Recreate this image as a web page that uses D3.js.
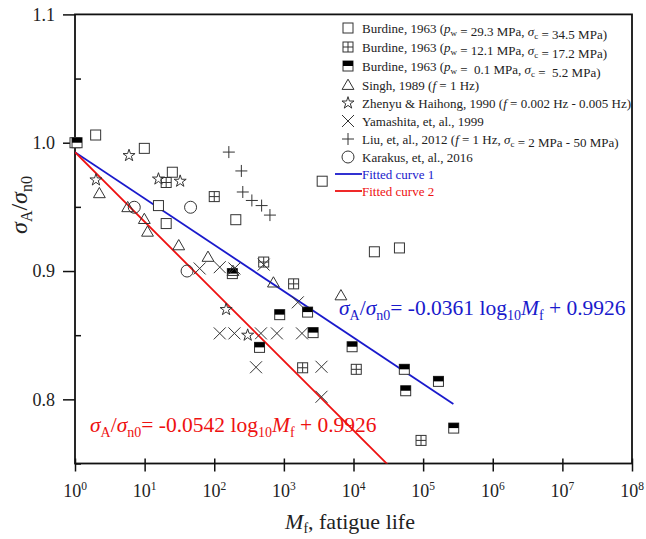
<!DOCTYPE html>
<html><head><meta charset="utf-8">
<script src="https://cdn.jsdelivr.net/npm/d3@7"></script>
<style>body{margin:0;background:#fff}svg{display:block}text{font-family:"Liberation Serif","Times New Roman",serif}</style>
</head><body>
<svg id="c" width="646" height="539"></svg>
<script>
// ---- data ----
const burdine29 = [[1,1.0],[1.98,1.006],[9.9,0.9956],[25,0.977],[15.8,0.951],[20.4,0.937],[204,0.940],[3550,0.970],[19950,0.915],[45700,0.918]];
const burdine12 = [[20.4,0.969],[100,0.958],[513,0.907],[1380,0.890],[1860,0.8246],[10960,0.8234],[93300,0.768]];
const burdine01 = [[1.07,1.0],[182,0.898],[871,0.866],[2190,0.868],[2630,0.852],[447,0.8405],[9550,0.841],[53700,0.8234],[166000,0.814],[56200,0.8067],[275000,0.7776]];
const singh = [[2.24,0.9606],[5.71,0.9497],[9.9,0.9405],[11,0.9306],[30.9,0.920],[81.3,0.911],[186,0.900],[708,0.891],[6600,0.881]];
const zhenyu = [[5.97,0.990],[2.0,0.971],[15.8,0.9717],[32.4,0.970],[148,0.870],[302,0.850]];
const yamashita = [[61.7,0.902],[120,0.903],[195,0.902],[513,0.905],[1585,0.8756],[120,0.8514],[195,0.8514],[468,0.8514],[794,0.8514],[1820,0.8514],[398,0.825],[3470,0.8254],[3470,0.802]];
const liu = [[162,0.9927],[245,0.978],[257,0.9616],[347,0.955],[479,0.951],[631,0.9436]];
const karakus = [[7.1,0.9497],[45.7,0.9497],[40.7,0.900]];
const fitSlopes = [-0.0361, -0.0542];
const fitIntercept = 0.9926;
const fitEnds = [2.72e5, 1e8];
const fitColors = ["#1a1acc", "#ee1111"];
const xTickExp = [0,1,2,3,4,5,6,7,8];
const yTicks = [0.8, 0.9, 1.0, 1.1];
const yMinor = [0.75, 0.85, 0.95, 1.05];
const legendLabels = [
  ["Burdine, 1963 (", {i:"p"}, {sub:"w"}, " = 29.3 MPa, ", {i:"σ"}, {sub:"c"}, " = 34.5 MPa)"],
  ["Burdine, 1963 (", {i:"p"}, {sub:"w"}, " = 12.1 MPa, ", {i:"σ"}, {sub:"c"}, " = 17.2 MPa)"],
  ["Burdine, 1963 (", {i:"p"}, {sub:"w"}, " =  0.1 MPa, ", {i:"σ"}, {sub:"c"}, " =  5.2 MPa)"],
  ["Singh, 1989 (", {i:"f"}, " = 1 Hz)"],
  ["Zhenyu & Haihong, 1990 (", {i:"f"}, " = 0.002 Hz - 0.005 Hz)"],
  ["Yamashita, et, al., 1999"],
  ["Liu, et, al., 2012 (", {i:"f"}, " = 1 Hz, ", {i:"σ"}, {sub:"c"}, " = 2 MPa - 50 MPa)"],
  ["Karakus, et, al., 2016"],
  ["Fitted curve 1"],
  ["Fitted curve 2"]
];

// ---- layout ----
const svg = d3.select("#c");
const L = 75, R = 632, T = 14.4, B = 463.5;
const x = d3.scaleLog().domain([1, 1e8]).range([L, R]);
const y = d3.scaleLinear().domain([0.75, 1.1]).range([B, T]);
const ink = "#333";

svg.append("clipPath").attr("id","pc").append("rect").attr("x",L).attr("y",T).attr("width",R-L).attr("height",B-T);

// axes
const xAxis = d3.axisBottom(x).tickValues(xTickExp.map(e => Math.pow(10,e))).tickFormat("").tickSizeInner(8).tickSizeOuter(0);
const gx = svg.append("g").attr("transform",`translate(0,${B})`).call(xAxis);
gx.select(".domain").remove();
gx.selectAll("line").attr("stroke","#111").attr("stroke-width",1.5).attr("y1",-5);
const xl = svg.append("g");
xTickExp.forEach(e => {
  const t = xl.append("text").attr("x", x(Math.pow(10,e))).attr("y", 497).attr("text-anchor","middle").attr("font-size",18).attr("fill","#222");
  t.append("tspan").text("10");
  t.append("tspan").attr("dy",-7).attr("font-size",11.5).text(e);
});
const yAxis = d3.axisLeft(y).tickValues(yTicks).tickFormat(d3.format(".1f")).tickSizeInner(12).tickSizeOuter(0).tickPadding(8);
const gy = svg.append("g").attr("transform",`translate(${L},0)`).call(yAxis);
gy.select(".domain").remove();
gy.selectAll("line").attr("stroke","#111").attr("stroke-width",1.5);
gy.selectAll("text").attr("font-size",18).attr("fill","#222").attr("font-family","Liberation Serif");
const gym = svg.append("g").attr("transform",`translate(${L},0)`).call(d3.axisRight(y).tickValues(yMinor).tickFormat("").tickSizeInner(6).tickSizeOuter(0));
gym.select(".domain").remove();
gym.selectAll("line").attr("stroke","#111").attr("stroke-width",1.5);
svg.append("rect").attr("x",L).attr("y",T).attr("width",R-L).attr("height",B-T).attr("fill","none").attr("stroke","#111").attr("stroke-width",1.8);

// axis titles
const yt = svg.append("text").attr("transform",`translate(27,205) rotate(-90)`).attr("text-anchor","middle").attr("font-size",24).attr("fill","#222");
yt.append("tspan").attr("font-style","italic").text("σ");
yt.append("tspan").attr("dy",5).attr("font-size",16).text("A");
yt.append("tspan").attr("dy",-5).text("/");
yt.append("tspan").attr("font-style","italic").text("σ");
yt.append("tspan").attr("dy",5).attr("font-size",16).text("n0");
const xt = svg.append("text").attr("x",350).attr("y",529).attr("text-anchor","middle").attr("font-size",22).attr("fill","#222");
xt.append("tspan").attr("font-style","italic").text("M");
xt.append("tspan").attr("dy",4).attr("font-size",14).text("f");
xt.append("tspan").attr("dy",-4).text(", fatigue life");

// fitted lines
const plot = svg.append("g").attr("clip-path","url(#pc)");
fitSlopes.forEach((s,i) => {
  const pts = [1, fitEnds[i]].map(m => [x(m), y(fitIntercept + s*Math.log10(m))]);
  plot.append("path").attr("d", d3.line()(pts)).attr("stroke", fitColors[i]).attr("stroke-width",1.8).attr("fill","none");
});

// markers
function drawMarker(g, type, cx, cy) {
  const h = 5;
  if (type === "sq" || type === "grid" || type === "half") {
    g.append("rect").attr("x",cx-h).attr("y",cy-h).attr("width",2*h).attr("height",2*h).attr("fill","#fff").attr("stroke",ink).attr("stroke-width",1);
    if (type === "grid") {
      g.append("path").attr("d",`M${cx-h},${cy}H${cx+h}M${cx},${cy-h}V${cy+h}`).attr("stroke",ink).attr("stroke-width",1);
    }
    if (type === "half") {
      g.append("rect").attr("x",cx-h).attr("y",cy-h).attr("width",2*h).attr("height",h).attr("fill","#000");
    }
  } else if (type === "tri") {
    g.append("path").attr("d",d3.symbol(d3.symbolTriangle2, 100)()).attr("transform",`translate(${cx},${cy+1})`).attr("fill","none").attr("stroke",ink).attr("stroke-width",1);
  } else if (type === "star") {
    g.append("path").attr("d",d3.symbol(d3.symbolStar, 45)()).attr("transform",`translate(${cx},${cy})`).attr("fill","none").attr("stroke",ink).attr("stroke-width",1);
  } else if (type === "x") {
    const k = 6;
    g.append("path").attr("d",`M${cx-k},${cy-k}L${cx+k},${cy+k}M${cx-k},${cy+k}L${cx+k},${cy-k}`).attr("stroke",ink).attr("stroke-width",1);
  } else if (type === "plus") {
    const k = 6;
    g.append("path").attr("d",`M${cx-k},${cy}H${cx+k}M${cx},${cy-k}V${cy+k}`).attr("stroke",ink).attr("stroke-width",1);
  } else if (type === "circ") {
    g.append("circle").attr("cx",cx).attr("cy",cy).attr("r",6).attr("fill","none").attr("stroke",ink).attr("stroke-width",1);
  }
}
const series = [
  [burdine29,"sq"],[burdine12,"grid"],[burdine01,"half"],[singh,"tri"],
  [zhenyu,"star"],[yamashita,"x"],[liu,"plus"],[karakus,"circ"]
];
const mg = svg.append("g");
series.forEach(([data,type]) => {
  data.forEach(d => drawMarker(mg, type, x(d[0]), y(d[1])));
});

// legend
const rowsY = [28, 47, 66, 85, 103, 121, 139, 157, 174, 191];
const lg = svg.append("g");
legendLabels.forEach((parts,i) => {
  const ry = rowsY[i];
  if (i < 8) drawMarker(lg, series[i][1], 348, ry);
  else lg.append("line").attr("x1",335).attr("x2",362).attr("y1",ry).attr("y2",ry).attr("stroke",fitColors[i-8]).attr("stroke-width",1.8);
  const t = lg.append("text").attr("x", 362).attr("y", ry+4.5).attr("font-size",13).attr("fill", i<8 ? "#222" : fitColors[i-8]).attr("xml:space","preserve");
  parts.forEach(p => {
    if (typeof p === "string") t.append("tspan").text(p);
    else if (p.i) t.append("tspan").attr("font-style","italic").text(p.i);
    else if (p.sub) { t.append("tspan").attr("dy",3).attr("font-size",9).text(p.sub); t.append("tspan").attr("dy",-3).text(""); }
  });
});

// equations
function equation(xp, yp, slope, color) {
  const t = svg.append("text").attr("x",xp).attr("y",yp).attr("font-size",21.5).attr("fill",color).attr("xml:space","preserve");
  t.append("tspan").attr("font-style","italic").text("σ");
  t.append("tspan").attr("dy",5).attr("font-size",14).text("A");
  t.append("tspan").attr("dy",-5).text("/");
  t.append("tspan").attr("font-style","italic").text("σ");
  t.append("tspan").attr("dy",5).attr("font-size",14).text("n0");
  t.append("tspan").attr("dy",-5).text("= " + slope.toFixed(4) + " log");
  t.append("tspan").attr("dy",5).attr("font-size",14).text("10");
  t.append("tspan").attr("dy",-5).attr("font-style","italic").text("M");
  t.append("tspan").attr("dy",5).attr("font-size",14).text("f");
  t.append("tspan").attr("dy",-5).text(" + " + fitIntercept.toFixed(4));
}
equation(339, 315, fitSlopes[0], fitColors[0]);
equation(90, 432, fitSlopes[1], fitColors[1]);
</script>
</body></html>
